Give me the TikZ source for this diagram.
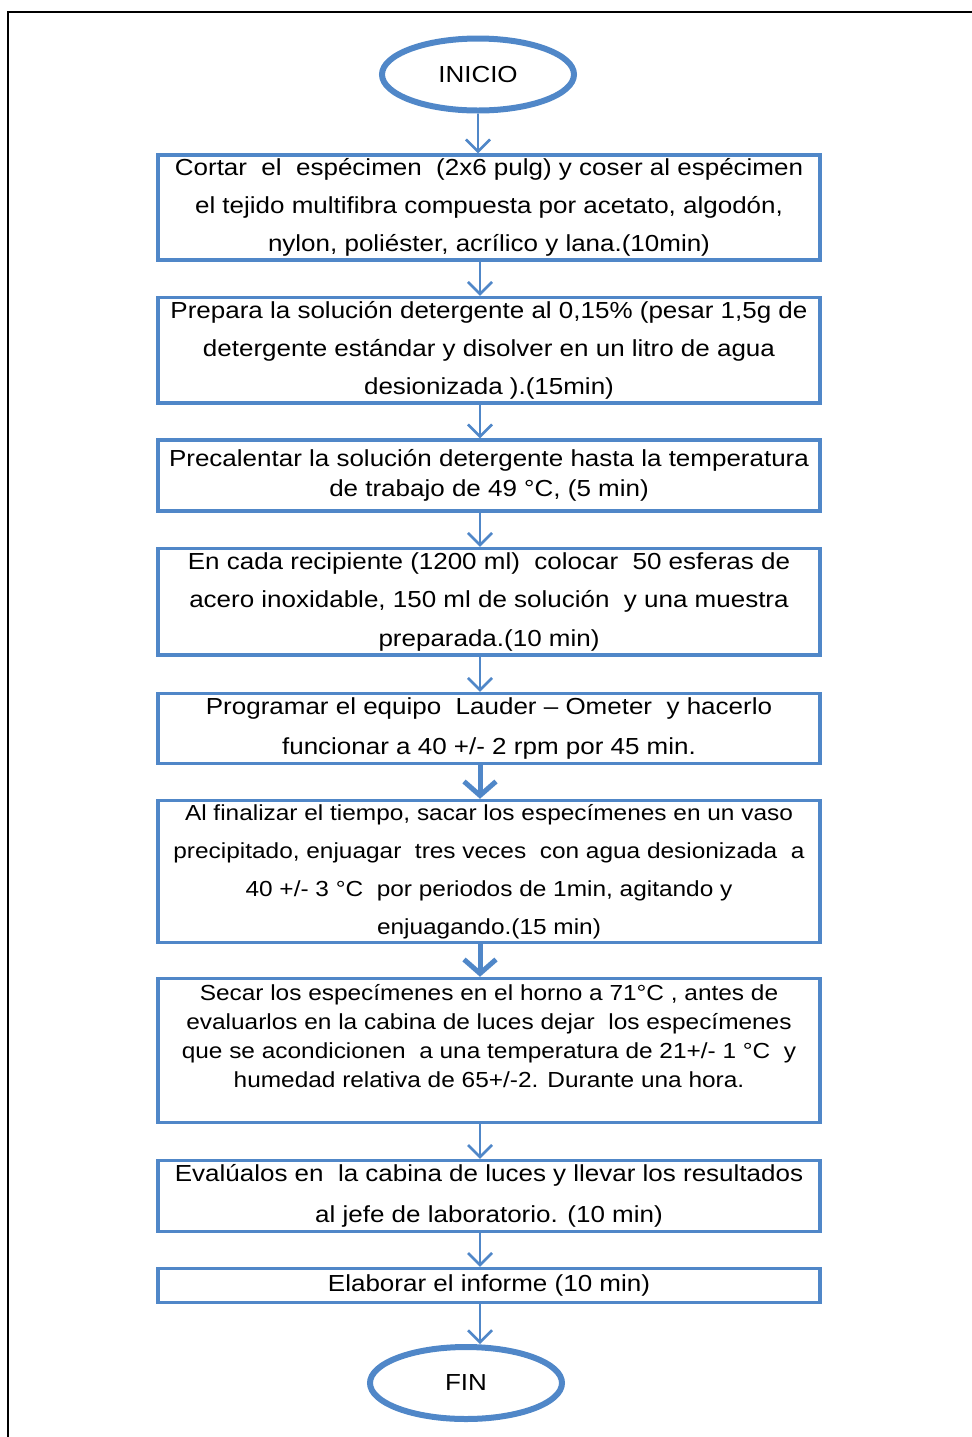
\documentclass[tikz,border=0pt]{standalone}
\usepackage{fontspec}
\setmainfont{Liberation Sans}[FakeStretch=1.12]
\usetikzlibrary{shapes.geometric,arrows.meta}
\definecolor{azul}{RGB}{80,135,200}

\begin{document}
\begin{tikzpicture}[x=0.5pt,y=-0.5pt, %% one unit = one pixel of the page
    caja/.style={draw=azul, line width=1.75pt, minimum width=331pt, inner sep=0pt,
                 align=center, font=\fontsize{11.6}{#1}\selectfont},
    caja/.default=19pt,
    cajachica/.style={caja, font=\fontsize{10.9}{#1}\selectfont},
    terminal/.style={draw=azul, line width=3pt, ellipse, minimum width=96pt,
                     minimum height=36pt, inner sep=0pt, font=\fontsize{11.6}{14}\selectfont},
    flecha/.style={draw=azul, line width=1.25pt, -{Straight Barb[length=6pt,width=12pt]}},
    flechagruesa/.style={draw=azul, line width=2.5pt, -{Straight Barb[length=7pt,width=16pt]}}]

            \useasboundingbox (0,0) rectangle (972,1437);
            \draw[line width=1.25pt] (8,1450) -- (8,12) -- (990,12);

            \node[terminal] (inicio) at (478,74.5) {INICIO};

            \node[caja, minimum height=52.5pt] (b1) at (489,207.5)
                {Cortar~ el~ espécimen~ (2x6 pulg) y coser al espécimen\\
                 el tejido multifibra compuesta por acetato, algodón,\\
                 nylon, poliéster, acrílico y lana.(10min)};
            \node[caja, minimum height=52.75pt] (b2) at (489,350.25)
                {Prepara la solución detergente al 0,15\% (pesar 1,5g de\\
                 detergente estándar y disolver en un litro de agua\\
                 desionizada ).(15min)};
            \node[caja=15pt, minimum height=35.5pt] (b3) at (489,475.5)
                {Precalentar la solución detergente hasta la temperatura\\
                 de trabajo de 49 °C, (5 min)};
            \node[caja=19.25pt, minimum height=53.25pt] (b4) at (489,601.75)
                {En cada recipiente (1200 ml)~ colocar~ 50 esferas de\\
                 acero inoxidable, 150 ml de solución~ y una muestra\\
                 preparada.(10 min)};
            \node[caja=20pt, minimum height=35pt] (b5) at (489,728.5)
                {Programar el equipo~ Lauder – Ometer~ y hacerlo\\
                 funcionar a 40 +/- 2 rpm por 45 min.};
            \node[cajachica=19pt, minimum height=71pt] (b6) at (489,871.5)
                {Al finalizar el tiempo, sacar los especímenes en un vaso\\
                 precipitado, enjuagar~ tres veces~ con agua desionizada~ a\\
                 40 +/- 3 °C~ por periodos de 1min, agitando y\\
                 enjuagando.(15 min)};
            \node[cajachica=14.5pt, minimum height=72pt] (b7) at (489,1050.5)
                {Secar los especímenes en el horno a 71°C , antes de\\
                 evaluarlos en la cabina de luces dejar~ los especímenes\\
                 que se acondicionen~ a una temperatura de 21+/- 1 °C~ y\\
                 humedad relativa de 65+/-2. Durante una hora.\\ ~};
            \node[caja=20.5pt, minimum height=35.5pt] (b8) at (489,1196)
                {Evalúalos en~ la cabina de luces y llevar los resultados\\
                 al jefe de laboratorio. (10 min)};
            \node[caja, minimum height=17pt] (b9) at (489,1285.5)
                {Elaborar el informe (10 min)};

            \node[terminal] (fin) at (466,1383) {FIN};

            \draw[flecha] (inicio.south) -- (inicio.south |- b1.north);

            \foreach \a/\b in {b1/b2,b2/b3,b3/b4,b4/b5,b7/b8,b8/b9}
                \draw[flecha] ([xshift=-4.5pt]\a.south) -- ([xshift=-4.5pt]\b.north);

            \foreach \a/\b in {b5/b6,b6/b7}
                \draw[flechagruesa] ([xshift=-4.5pt]\a.south) -- ([xshift=-4.5pt]\b.north);

            \draw[flecha] ([xshift=-4.5pt]b9.south) -- ([xshift=-4.5pt]b9.south |- fin.north);
\end{tikzpicture}
\end{document}
